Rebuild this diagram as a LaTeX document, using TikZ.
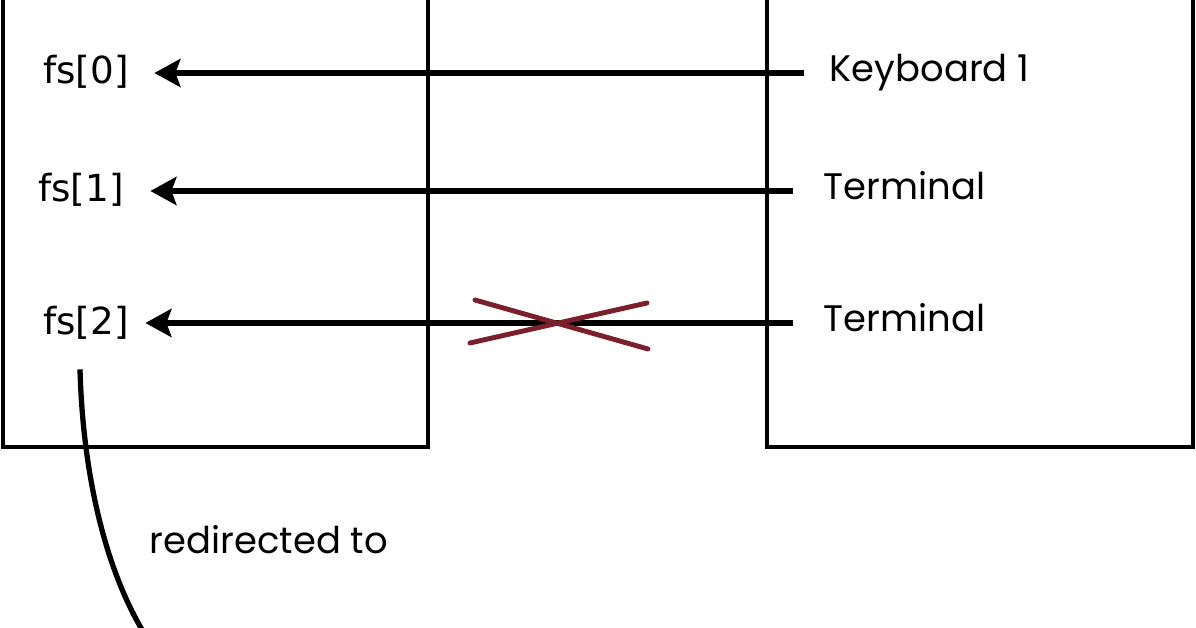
\documentclass[tikz,border=0pt]{standalone}
\usepackage{fontspec}
\setmainfont{DejaVu Sans}
\newfontfamily\handfont{Poppins}
\usepackage{tikz}
\usetikzlibrary{arrows.meta}
\usetikzlibrary{positioning,calc}
\usepackage{xcolor}
\definecolor{crossred}{HTML}{7A1F2B}
\tikzset{
    slot/.style={
        inner sep=0pt,
        anchor=center,
        font=\fontsize{10.6}{12}\selectfont
    },
    device/.style={
        inner sep=0pt,
        anchor=west,
        font=\handfont\fontsize{10.5}{13}\selectfont
    },
    link/.style={
        draw,
        -{Stealth[length=2.6mm, width=2.8mm, inset=0.5mm]},
        line width=1.5pt
    }
}

\begin{document}
\begin{tikzpicture}[x=0.01cm, y=-0.01cm]
  % Define styles for boxes and crosses
  \tikzset{
    table/.style={
      draw=black,
      line width=1pt
    },
    cross/.style={
      draw=crossred,
      line width=1.4pt,
      line cap=round
    },
    redirect/.style={
      draw,
      line width=1.5pt,
      -{Stealth[length=2.6mm, width=2.6mm, inset=0.5mm]}
    }
  }
  \useasboundingbox (0,0) rectangle (1196,628);

  % Process table and file table
  \draw[table] (3,-30) rectangle (428,447);
  \draw[table] (767,-30) rectangle (1193,447);

  % File descriptor slots
  \node[slot] (fs0) at (86,72) {fs[0]};
  \node[slot] (fs1) at (81,190) {fs[1]};
  \node[slot] (fs2) at (86,323) {fs[2]};

  % Devices
  \node[device] (kb) at (829,73) {Keyboard 1};
  \node[device] (term1) at (823,186) {Terminal};
  \node[device] (term2) at (823,318) {Terminal};

  % Ports where the links leave the devices
  \coordinate (kbport) at ($(kb.west)+(0,0)$);
  \coordinate (term1port) at ($(term1.west)+(0,5)$);
  \coordinate (term2port) at ($(term2.west)+(0,5)$);

  % Connect each device to its slot
  \draw[link, shorten <=0.25cm, shorten >=0.25cm] (kbport) -- (kbport -| fs0.east);
  \draw[link, shorten <=0.3cm, shorten >=0.26cm] (term1port) -- (term1port -| fs1.east);
  \draw[link, shorten <=0.3cm, shorten >=0.16cm] (term2port) -- (term2port -| fs2.east);

  % Broken link
  \draw[cross] (475,300) -- (648,349);
  \draw[cross] (470,343) -- (647,303);

  % Redirection of fs[2]
  \coordinate (target) at (168,668);
  \draw[redirect] ($(fs2.south)+(-6,29)$) .. controls (83,480) and (108,585) .. (target);
  \node[device, anchor=center] (redirlabel) at (269,540) {redirected to};
\end{tikzpicture}
\end{document}
